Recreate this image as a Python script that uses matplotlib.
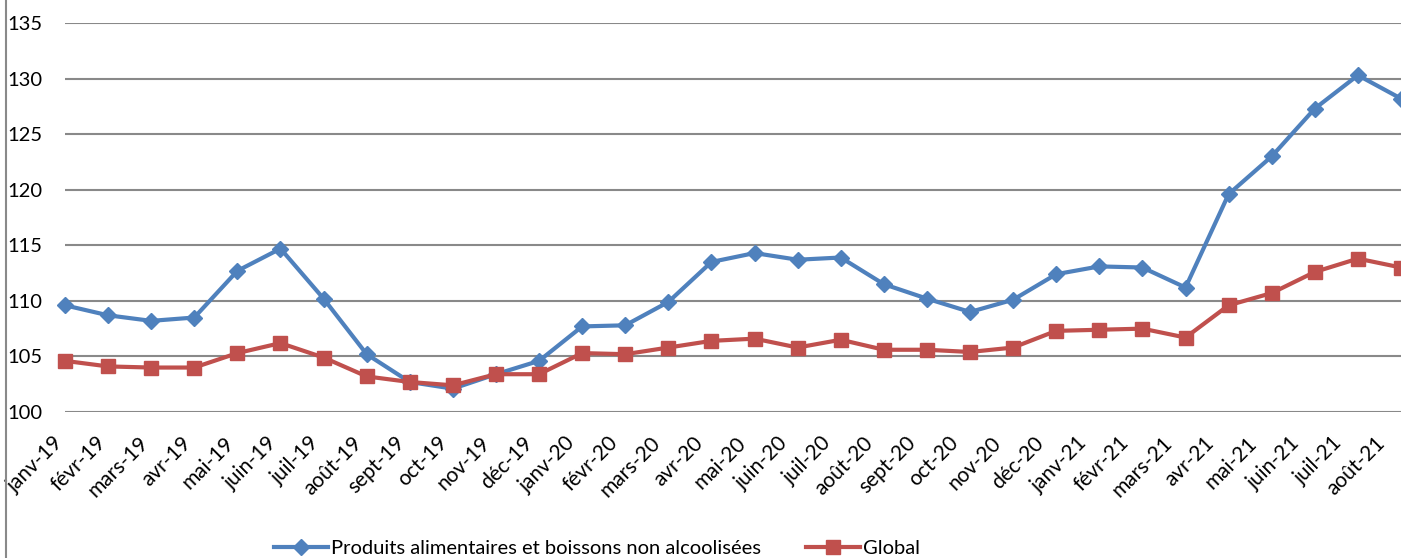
import matplotlib.pyplot as plt
import matplotlib.transforms as mtransforms
from matplotlib.lines import Line2D

months = ["janv-19", "févr-19", "mars-19", "avr-19", "mai-19", "juin-19", "juil-19", "août-19",
          "sept-19", "oct-19", "nov-19", "déc-19", "janv-20", "févr-20", "mars-20", "avr-20",
          "mai-20", "juin-20", "juil-20", "août-20", "sept-20", "oct-20", "nov-20", "déc-20",
          "janv-21", "févr-21", "mars-21", "avr-21", "mai-21", "juin-21", "juil-21", "août-21"]

food = [109.6, 108.7, 108.2, 108.5, 112.7, 114.7, 110.2, 105.2,
        102.7, 102.1, 103.4, 104.6, 107.7, 107.8, 109.9, 113.5,
        114.3, 113.7, 113.9, 111.5, 110.2, 109.0, 110.1, 112.4,
        113.1, 113.0, 111.2, 119.6, 123.0, 127.3, 130.3, 128.2]

overall = [104.6, 104.1, 104.0, 104.0, 105.3, 106.2, 104.9, 103.2,
           102.7, 102.4, 103.4, 103.4, 105.3, 105.2, 105.8, 106.4,
           106.6, 105.8, 106.5, 105.6, 105.6, 105.4, 105.8, 107.3,
           107.4, 107.5, 106.7, 109.6, 110.7, 112.6, 113.8, 113.0]

plt.rcParams["font.family"] = ["Lato", "DejaVu Sans"]

W, H = 1401, 558
fig = plt.figure(figsize=(W / 100, H / 100), dpi=100)

# plot area: janv-19 at x=65px, août-21 at the right edge; 100 at y=412, 135 at y=23
left, right = 65, 1401
bottom_px, top_px = 412, 23
ax = fig.add_axes([left / W, 1 - bottom_px / H, (right - left) / W, (bottom_px - top_px) / H])

x = list(range(len(months)))
ax.plot(x, food, color="#4F81BD", lw=3, marker="D", ms=8, clip_on=False,
        label="Produits alimentaires et boissons non alcoolisées", zorder=3)
ax.plot(x, overall, color="#C0504D", lw=3, marker="s", ms=10, clip_on=False,
        label="Global", zorder=3)

ax.set_xlim(0, len(months) - 1)
ax.set_ylim(100, 135)
ax.set_yticks(range(100, 136, 5))
ax.set_xticks(x)
ax.set_xticklabels(months, rotation=45, ha="right", va="center", rotation_mode="anchor", fontsize=15)
ax.tick_params(axis="both", length=0)
ax.tick_params(axis="y", pad=16, labelsize=14.5)
ax.tick_params(axis="x", pad=20)
# the labels in the source sit on a slightly tighter pitch than the points
n = len(months)
for i, lbl in enumerate(ax.get_xticklabels()):
    dx = -5 - 14 * i / (n - 1)
    lbl.set_transform(lbl.get_transform() + mtransforms.ScaledTranslation(dx / 100, 0, fig.dpi_scale_trans))
ax.grid(axis="y", color="#898989", lw=1.5)
for s in ax.spines.values():
    s.set_visible(False)

# chart border on the left
fig.add_artist(Line2D([6 / W, 6 / W], [0, 1], color="#898989", lw=1.5))

ax.legend(loc="center", bbox_to_anchor=((597 - left) / (right - left), -(548 - bottom_px) / (bottom_px - top_px)),
          ncol=2, frameon=False, fontsize=14.5, handlelength=2.65, columnspacing=2.25,
          handletextpad=0.15, borderpad=0)

fig.savefig("out.png", dpi=100)
